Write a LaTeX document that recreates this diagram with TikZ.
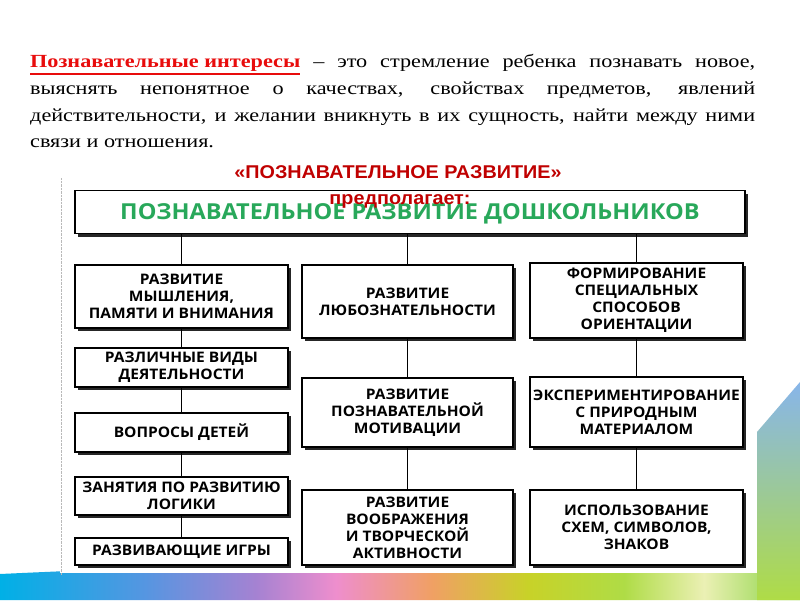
\documentclass[tikz,border=0pt]{standalone}
\usepackage{fontspec}
\setmainfont{Liberation Serif}[FakeStretch=1.2]
\newfontfamily\headfont{Liberation Sans}[FakeStretch=1.07]
\newfontfamily\boxfont{Open Sans}[FakeStretch=1.07]
\usetikzlibrary{positioning, shadows}
\definecolor{SlideRed}{RGB}{192,0,0}
\definecolor{TermRed}{RGB}{232,12,12}
\definecolor{TitleGreen}{RGB}{40,168,90}
% rainbow colours of the slide band
\definecolor{RbA}{RGB}{0,176,230}
\definecolor{RbB}{RGB}{85,150,225}
\definecolor{RbC}{RGB}{165,130,210}
\definecolor{RbD}{RGB}{238,142,205}
\definecolor{RbE}{RGB}{240,160,100}
\definecolor{RbF}{RGB}{200,210,40}
\definecolor{RbG}{RGB}{175,220,70}
\definecolor{RbH}{RGB}{235,240,180}
\definecolor{RbI}{RGB}{130,210,60}
\pgfdeclarehorizontalshading{rainbow}{100bp}{color(0bp)=(RbA); color(25bp)=(RbA);
  color(34bp)=(RbB); color(41bp)=(RbC); color(46bp)=(RbD); color(52bp)=(RbE);
  color(58bp)=(RbF); color(64bp)=(RbG); color(69bp)=(RbH); color(75bp)=(RbI);
  color(100bp)=(RbI)}
% thick underline for the term
\newcommand\termline[1]{\leavevmode\vtop{\hbox{#1}\kern1.2pt\hrule height 1.8pt}}

\begin{document}
\begin{tikzpicture}[x=1pt, y=-1pt,
      item/.style={rectangle, draw=black, line width=1.5pt, fill=white,
                   align=center, inner sep=2pt,
                   font=\boxfont\bfseries\fontsize{14.5}{17}\selectfont,
                   drop shadow={shadow xshift=3pt, shadow yshift=-3pt,
                                fill=black!85, opacity=1}},
      link/.style={draw=black, line width=1.8pt},
      head/.style={font=\headfont\bfseries\fontsize{18.5}{20}\selectfont,
                   text=SlideRed, anchor=base, inner sep=0pt}
    ]
    \useasboundingbox (0,0) rectangle (800,600);
    \fill[white] (0,0) rectangle (800,600);

    % slide decoration
    \shade[shading=rainbow] (0,574) .. controls (300,560) and (600,556) .. (800,552)
          -- (800,600) -- (0,600) -- cycle;
    \shade[top color=RbB!70, middle color=RbH!80!orange!40, bottom color=RbG]
          (757,432) -- (800,382) -- (800,600) -- (757,600) -- cycle;
    \fill[white] (60,178) rectangle (757,573);
    \draw[gray!55, densely dotted] (61,178) -- (61,575);

    % definition text
    \node[anchor=north west, inner sep=0pt, text width=725pt, align=justify,
          font=\fontsize{18.5}{26.7}\selectfont] (defn) at (30,54.3)
          {\hyphenpenalty=10000\tolerance=9999
           {\color{TermRed}\termline{\bfseries Познавательные интересы}} – это стремление
           ребенка познавать новое,\linebreak
           выяснять непонятное о качествах, свойствах предметов, явлений\linebreak
           действительности, и желании вникнуть в их сущность, найти между ними\linebreak
           связи и отношения.};

    % top of the scheme
    \node[item, minimum width=670, minimum height=43, text=TitleGreen,
          text height=15.7pt, text depth=0pt,
          font=\boxfont\bfseries\fontsize{22}{26}\selectfont]
          (top) at (410,212) {ПОЗНАВАТЕЛЬНОЕ РАЗВИТИЕ ДОШКОЛЬНИКОВ};
    \node[head] (htitle) at (398,178) {«ПОЗНАВАТЕЛЬНОЕ РАЗВИТИЕ»};
    \node[head] (hsub) at (400,204) {предполагает:};

    % left column
    \node[item, minimum width=213, minimum height=63] (l1) at (181.5,296.5)
          {РАЗВИТИЕ\\МЫШЛЕНИЯ,\\ПАМЯТИ И ВНИМАНИЯ};
    \node[item, minimum width=213, minimum height=39] (l2) at (181.5,367.5)
          {РАЗЛИЧНЫЕ ВИДЫ\\ДЕЯТЕЛЬНОСТИ};
    \node[item, minimum width=213, minimum height=39] (l3) at (181.5,432.5)
          {ВОПРОСЫ ДЕТЕЙ};
    \node[item, minimum width=213, minimum height=38] (l4) at (181.5,496)
          {ЗАНЯТИЯ ПО РАЗВИТИЮ\\ЛОГИКИ};
    \node[item, minimum width=213, minimum height=27] (l5) at (181.5,551.5)
          {РАЗВИВАЮЩИЕ ИГРЫ};

    % middle column
    \node[item, minimum width=211, minimum height=73] (m1) at (407.5,301.5)
          {РАЗВИТИЕ\\ЛЮБОЗНАТЕЛЬНОСТИ};
    \node[item, minimum width=211, minimum height=69] (m2) at (407.5,412.5)
          {РАЗВИТИЕ\\ПОЗНАВАТЕЛЬНОЙ\\МОТИВАЦИИ};
    \node[item, minimum width=211, minimum height=75] (m3) at (407.5,527.5)
          {РАЗВИТИЕ\\ВООБРАЖЕНИЯ\\И ТВОРЧЕСКОЙ\\АКТИВНОСТИ};

    % right column
    \node[item, minimum width=213, minimum height=75] (r1) at (636.5,300.5)
          {ФОРМИРОВАНИЕ\\СПЕЦИАЛЬНЫХ\\СПОСОБОВ\\ОРИЕНТАЦИИ};
    \node[item, minimum width=213, minimum height=70] (r2) at (636.5,412)
          {ЭКСПЕРИМЕНТИРОВАНИЕ\\С ПРИРОДНЫМ\\МАТЕРИАЛОМ};
    \node[item, minimum width=213, minimum height=75] (r3) at (636.5,527.5)
          {ИСПОЛЬЗОВАНИЕ\\СХЕМ, СИМВОЛОВ,\\ЗНАКОВ};

    % connectors
    \foreach \c in {l1, m1, r1}
      \draw[link] (top.south -| \c) -- (\c);
    \foreach \a/\b in {l1/l2, l2/l3, l3/l4, l4/l5, m1/m2, m2/m3, r1/r2, r2/r3}
      \draw[link] (\a) -- (\b);
  \end{tikzpicture}
\end{document}
